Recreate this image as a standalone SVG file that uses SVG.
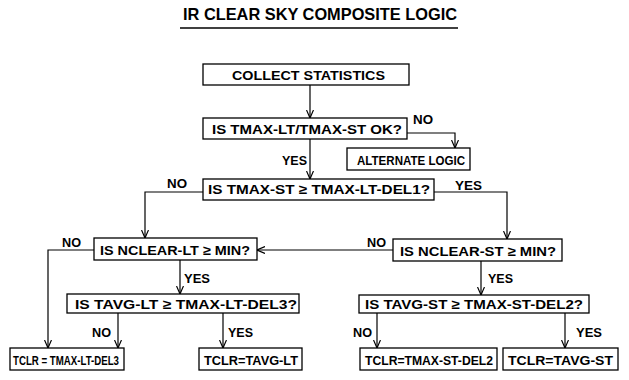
<svg xmlns="http://www.w3.org/2000/svg" width="629" height="380" viewBox="0 0 629 380">
<style>
.box{fill:#fff;stroke:#000;stroke-width:1.3}
.t{font-family:"Liberation Sans",Arial,sans-serif;font-weight:bold;font-size:13.5px;fill:#000}
.ttl{font-family:"Liberation Sans",Arial,sans-serif;font-weight:bold;font-size:16.5px;fill:#000}
.c{fill:none;stroke:#000;stroke-width:1.2}
</style>
<defs>
<marker id="arr" viewBox="0 0 8 8" refX="8" refY="4" markerWidth="8" markerHeight="8" markerUnits="userSpaceOnUse" orient="auto">
<path d="M0,0.5 L8,4 L0,7.5" fill="none" stroke="#000" stroke-width="1.2"/>
</marker>
</defs>
<g id="title">
<text class="ttl" x="183" y="20" textLength="274" lengthAdjust="spacingAndGlyphs">IR CLEAR SKY COMPOSITE LOGIC</text>
<line x1="180" y1="28" x2="458" y2="28" stroke="#000" stroke-width="1.6"/>
</g>
<g id="collect"><rect class="box" x="203" y="64" width="206" height="21"/><text class="t" x="232" y="79.5" textLength="153" lengthAdjust="spacingAndGlyphs">COLLECT STATISTICS</text></g>
<g id="q1"><rect class="box" x="203" y="118" width="204" height="21"/><text class="t" x="212" y="134" textLength="190" lengthAdjust="spacingAndGlyphs">IS TMAX-LT/TMAX-ST OK?</text></g>
<g id="alt"><rect class="box" x="347" y="148" width="123" height="22"/><text class="t" x="357" y="164.5" textLength="108" lengthAdjust="spacingAndGlyphs" style="font-size:12.5px">ALTERNATE LOGIC</text></g>
<g id="q2"><rect class="box" x="203" y="179" width="231" height="21"/><text class="t" x="208" y="194" textLength="222" lengthAdjust="spacingAndGlyphs">IS TMAX-ST  ≥ TMAX-LT-DEL1?</text></g>
<g id="q3"><rect class="box" x="94" y="238" width="163" height="22"/><text class="t" x="100" y="254.5" textLength="150" lengthAdjust="spacingAndGlyphs">IS NCLEAR-LT ≥ MIN?</text></g>
<g id="q4"><rect class="box" x="393" y="239" width="169" height="22"/><text class="t" x="400" y="255.5" textLength="156" lengthAdjust="spacingAndGlyphs">IS NCLEAR-ST  ≥ MIN?</text></g>
<g id="q5"><rect class="box" x="67" y="294" width="232" height="19"/><text class="t" x="75" y="308.5" textLength="222" lengthAdjust="spacingAndGlyphs">IS TAVG-LT ≥ TMAX-LT-DEL3?</text></g>
<g id="q6"><rect class="box" x="359" y="295" width="230" height="18"/><text class="t" x="365" y="309" textLength="218" lengthAdjust="spacingAndGlyphs">IS TAVG-ST ≥ TMAX-ST-DEL2?</text></g>
<g id="r1"><rect class="box" x="10" y="348" width="114" height="22"/><text class="t" x="13" y="364.5" textLength="106" lengthAdjust="spacingAndGlyphs">TCLR = TMAX-LT-DEL3</text></g>
<g id="r2"><rect class="box" x="199" y="348" width="103" height="22"/><text class="t" x="204" y="364.5" textLength="94" lengthAdjust="spacingAndGlyphs">TCLR=TAVG-LT</text></g>
<g id="r3"><rect class="box" x="360" y="348" width="137" height="22"/><text class="t" x="365" y="364.5" textLength="128" lengthAdjust="spacingAndGlyphs">TCLR=TMAX-ST-DEL2</text></g>
<g id="r4"><rect class="box" x="503" y="348" width="115" height="22"/><text class="t" x="508" y="364.5" textLength="105" lengthAdjust="spacingAndGlyphs">TCLR=TAVG-ST</text></g>
<g id="connectors">
<path class="c" d="M310,85 V118" marker-end="url(#arr)"/>
<path class="c" d="M407,133 H455 V148" marker-end="url(#arr)"/>
<path class="c" d="M310,139 V179" marker-end="url(#arr)"/>
<path class="c" d="M203,192 H145 V238" marker-end="url(#arr)"/>
<path class="c" d="M434,192 H507 V239" marker-end="url(#arr)"/>
<path class="c" d="M94,250 H48 V348" marker-end="url(#arr)"/>
<path class="c" d="M393,250 H257" marker-end="url(#arr)"/>
<path class="c" d="M180,260 V294" marker-end="url(#arr)"/>
<path class="c" d="M481,261 V295" marker-end="url(#arr)"/>
<path class="c" d="M118,313 V348" marker-end="url(#arr)"/>
<path class="c" d="M223,313 V348" marker-end="url(#arr)"/>
<path class="c" d="M377,313 V348" marker-end="url(#arr)"/>
<path class="c" d="M565,313 V348" marker-end="url(#arr)"/>
<text class="t" x="413" y="124" textLength="20" lengthAdjust="spacingAndGlyphs">NO</text>
<text class="t" x="282" y="165" textLength="25" lengthAdjust="spacingAndGlyphs">YES</text>
<text class="t" x="167" y="188" textLength="20" lengthAdjust="spacingAndGlyphs">NO</text>
<text class="t" x="455" y="190" textLength="27" lengthAdjust="spacingAndGlyphs">YES</text>
<text class="t" x="62" y="247" textLength="19" lengthAdjust="spacingAndGlyphs">NO</text>
<text class="t" x="367" y="247" textLength="19" lengthAdjust="spacingAndGlyphs">NO</text>
<text class="t" x="184" y="283" textLength="26" lengthAdjust="spacingAndGlyphs">YES</text>
<text class="t" x="488" y="283" textLength="25" lengthAdjust="spacingAndGlyphs">YES</text>
<text class="t" x="92" y="337" textLength="19" lengthAdjust="spacingAndGlyphs">NO</text>
<text class="t" x="228" y="337" textLength="25" lengthAdjust="spacingAndGlyphs">YES</text>
<text class="t" x="353" y="337" textLength="19" lengthAdjust="spacingAndGlyphs">NO</text>
<text class="t" x="576" y="337" textLength="26" lengthAdjust="spacingAndGlyphs">YES</text>
</g>
</svg>
